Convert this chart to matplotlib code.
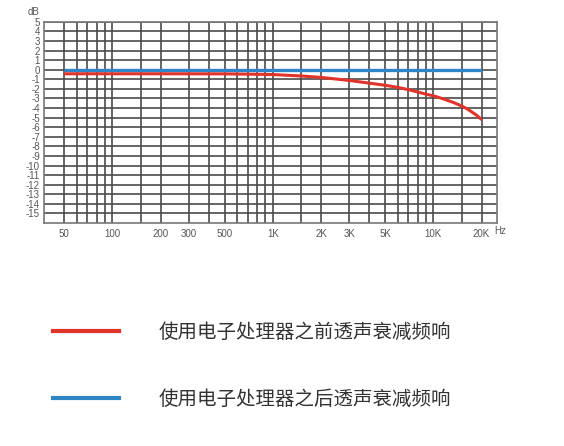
import matplotlib
matplotlib.use("Agg")
import matplotlib.pyplot as plt
from matplotlib.lines import Line2D
from matplotlib.ticker import NullFormatter

plt.rcParams['font.family'] = ['Liberation Sans', 'Noto Sans CJK SC', 'DejaVu Sans']

# frequency response data
freq_before = [50, 100, 200, 500, 700, 1000, 1500, 2000, 3000, 4000, 5000,
               6000, 7000, 8000, 9000, 10000, 11000, 12000, 13500, 15000, 16000,
               17000, 18500, 20000]
db_before = [-0.42, -0.42, -0.42, -0.43, -0.46, -0.5, -0.65, -0.8, -1.12, -1.4, -1.62,
             -1.84, -2.08, -2.32, -2.55, -2.72, -2.93, -3.14, -3.45, -3.78, -4.02,
             -4.3, -4.72, -5.2]
freq_after = [50, 20000]
db_after = [0, 0]

label_before = "使用电子处理器之前透声衰减频响"
label_after = "使用电子处理器之后透声衰减频响"

x_ticks = [50, 100, 200, 300, 500, 1000, 2000, 3000, 5000, 10000, 20000]
x_ticklabels = ["50", "100", "200", "300", "500", "1K", "2K", "3K", "5K", "10K", "20K"]
x_grid = [60, 70, 80, 90, 150, 400, 600, 700, 800, 900, 1500,
          4000, 6000, 7000, 8000, 9000, 15000]
y_ticks = list(range(5, -16, -1))

RED = "#e0332a"
BLUE = "#2f86c6"
GRID = "#4a4a4a"

fig = plt.figure(figsize=(5.64, 4.46), dpi=100)
ax = fig.add_axes([0.078, 0.5, 0.804, 0.451])

ax.plot(freq_after, db_after, color=BLUE, lw=2.4, solid_capstyle="butt", zorder=3)
ax.plot(freq_before, db_before, color=RED, lw=2.2, solid_capstyle="butt", zorder=4)

ax.set_xscale("log")
ax.set_xlim(37.5, 25100)
ax.set_ylim(-16, 5)

ax.set_xticks(x_ticks)
ax.set_xticklabels(x_ticklabels)
ax.set_xticks(x_grid, minor=True)
ax.xaxis.set_minor_formatter(NullFormatter())
ax.set_yticks(y_ticks)
ax.set_yticklabels([str(v) for v in y_ticks])

ax.grid(True, which="both", color=GRID, lw=1.2)
ax.tick_params(which="both", length=0, labelsize=7, colors="#555555")
ax.tick_params(axis="x", pad=4)
ax.tick_params(axis="y", pad=3)
for s in ax.spines.values():
    s.set_color("#777777")
    s.set_linewidth(1.2)

fig.text(33 / 564, 1 - 12 / 446, "dB", fontsize=7, color="#555555", ha="center", va="center")
fig.text(500 / 564, 1 - 231 / 446, "Hz", fontsize=7, color="#555555", ha="center", va="center")

# legend drawn below the chart
fig.add_artist(Line2D([53 / 564, 119 / 564], [1 - 330.7 / 446] * 2, color=RED, lw=3))
fig.add_artist(Line2D([53 / 564, 119 / 564], [1 - 397.7 / 446] * 2, color=BLUE, lw=3))
fig.text(159 / 564, 1 - 332 / 446, label_before, fontsize=14, color="#333333",
         family=['Noto Sans CJK SC', 'DejaVu Sans'], va="center")
fig.text(159 / 564, 1 - 399 / 446, label_after, fontsize=14, color="#333333",
         family=['Noto Sans CJK SC', 'DejaVu Sans'], va="center")

fig.savefig("out.png", dpi=100)
